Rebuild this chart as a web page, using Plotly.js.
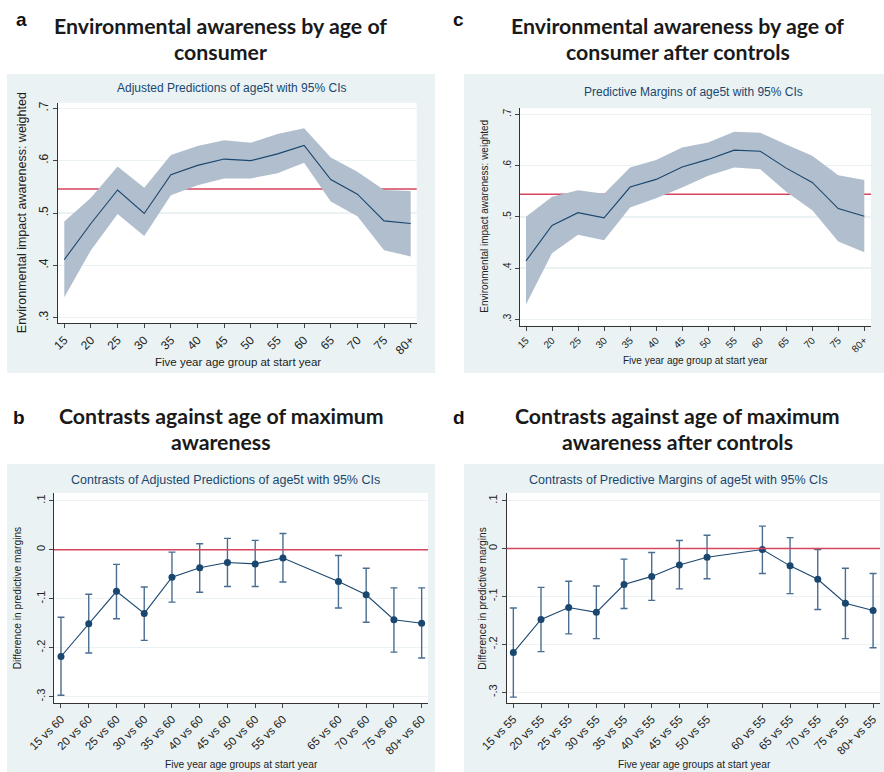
<!DOCTYPE html>
<html>
<head>
<meta charset="utf-8">
<script src="https://cdn.plot.ly/plotly-3.0.1.min.js"></script>
<style>html,body{margin:0;padding:0;background:#fff;}#chart{width:884px;height:772px;}</style>
</head>
<body>
<div id="chart"></div>
<script>
// ---------- data ----------
const ageStart  = [15,20,25,30,35,40,45,50,55,60,65,70,75,80];
const ageLabels = ['15','20','25','30','35','40','45','50','55','60','65','70','75','80+'];

// Panel a: adjusted predictions
const predA = [.411,.480,.544,.499,.573,.591,.603,.600,.613,.629,.564,.536,.485,.480];
const lowA  = [.339,.429,.498,.456,.534,.553,.566,.566,.576,.596,.522,.494,.429,.417];
const highA = [.484,.529,.589,.548,.611,.628,.639,.634,.651,.662,.606,.579,.544,.542];
const refA = .546;

// Panel c: predictive margins after controls
const predC = [.414,.483,.508,.498,.558,.573,.597,.612,.630,.628,.595,.567,.516,.501];
const lowC  = [.329,.429,.465,.454,.518,.536,.557,.580,.596,.593,.549,.513,.452,.431];
const highC = [.500,.539,.552,.545,.596,.611,.635,.645,.666,.664,.641,.619,.581,.572];
const refC = .544;

// Panel b: contrasts vs 60
const ageB    = [15,20,25,30,35,40,45,50,55,65,70,75,80];
const labelsB = ['15 vs 60','20 vs 60','25 vs 60','30 vs 60','35 vs 60','40 vs 60','45 vs 60','50 vs 60','55 vs 60','65 vs 60','70 vs 60','75 vs 60','80+ vs 60'];
const diffB = [-.218,-.151,-.085,-.130,-.056,-.037,-.026,-.029,-.017,-.065,-.092,-.143,-.150];
const lowB  = [-.297,-.211,-.141,-.185,-.107,-.087,-.075,-.075,-.066,-.119,-.148,-.209,-.221];
const highB = [-.138,-.091,-.030,-.076,-.005,.012,.023,.019,.033,-.012,-.038,-.078,-.078];

// Panel d: contrasts vs 55 after controls
const ageD    = [15,20,25,30,35,40,45,50,60,65,70,75,80];
const labelsD = ['15 vs 55','20 vs 55','25 vs 55','30 vs 55','35 vs 55','40 vs 55','45 vs 55','50 vs 55','60 vs 55','65 vs 55','70 vs 55','75 vs 55','80+ vs 55'];
const diffD = [-.217,-.148,-.123,-.133,-.075,-.058,-.034,-.018,-.002,-.036,-.064,-.114,-.129];
const lowD  = [-.310,-.215,-.178,-.188,-.125,-.108,-.084,-.063,-.052,-.094,-.127,-.188,-.207];
const highD = [-.124,-.081,-.068,-.078,-.022,-.008,.017,.028,.047,.023,-.002,-.041,-.052];

const yTickValsTop = [.3,.4,.5,.6,.7];
const yTickTextTop = ['.3','.4','.5','.6','.7'];
const yTickValsBot = [-.3,-.2,-.1,0,.1];
const yTickTextBot = ['-.3','-.2','-.1','0','.1'];

// ---------- styling ----------
const W = 884, H = 772;
const NAVY = '#1a476f', BAND = 'rgb(176,190,205)', RED = '#d5455e', BG = '#eaf2f3', CI = '#4a6e92';
const px = v => v / W, py = v => 1 - v / H;
const FONT = 'Liberation Sans, Arial, sans-serif';

function sub(a, b) { return a.map((v, i) => v - b[i]); }

const traces = [
  // panel a
  {x: ageStart, y: highA, type: 'scatter', mode: 'lines', line: {width: 0, color: BAND}, xaxis: 'x', yaxis: 'y', hoverinfo: 'skip'},
  {x: ageStart, y: lowA, type: 'scatter', mode: 'lines', line: {width: 0, color: BAND}, fill: 'tonexty', fillcolor: BAND, xaxis: 'x', yaxis: 'y'},
  {x: ageStart, y: predA, type: 'scatter', mode: 'lines', line: {width: 1.1, color: NAVY}, xaxis: 'x', yaxis: 'y'},
  // panel c
  {x: ageStart, y: highC, type: 'scatter', mode: 'lines', line: {width: 0, color: BAND}, xaxis: 'x3', yaxis: 'y3', hoverinfo: 'skip'},
  {x: ageStart, y: lowC, type: 'scatter', mode: 'lines', line: {width: 0, color: BAND}, fill: 'tonexty', fillcolor: BAND, xaxis: 'x3', yaxis: 'y3'},
  {x: ageStart, y: predC, type: 'scatter', mode: 'lines', line: {width: 1.1, color: NAVY}, xaxis: 'x3', yaxis: 'y3'},
  // panel b
  {x: ageB, y: diffB, type: 'scatter', mode: 'lines+markers', line: {width: 1.1, color: NAVY},
   marker: {size: 7, color: NAVY},
   error_y: {type: 'data', symmetric: false, array: sub(highB, diffB), arrayminus: sub(diffB, lowB), color: CI, thickness: 1.4, width: 3.5},
   xaxis: 'x2', yaxis: 'y2'},
  // panel d
  {x: ageD, y: diffD, type: 'scatter', mode: 'lines+markers', line: {width: 1.1, color: NAVY},
   marker: {size: 7, color: NAVY},
   error_y: {type: 'data', symmetric: false, array: sub(highD, diffD), arrayminus: sub(diffD, lowD), color: CI, thickness: 1.4, width: 3.5},
   xaxis: 'x4', yaxis: 'y4'}
];

function xax(dom, range, anchor, vals, text, size) {
  return {domain: dom, range: range, anchor: anchor, tickmode: 'array', tickvals: vals, ticktext: text,
    tickangle: -45, ticks: 'outside', ticklen: 4, tickcolor: '#444', tickwidth: 1,
    showline: true, linecolor: '#333', linewidth: 1, showgrid: false, zeroline: false,
    tickfont: {family: FONT, size: size, color: '#222'}, fixedrange: true};
}
function yax(dom, range, anchor, vals, text, size) {
  return {domain: dom, range: range, anchor: anchor, tickmode: 'array', tickvals: vals, ticktext: text,
    tickangle: -90, ticks: 'outside', ticklen: 4, tickcolor: '#444', tickwidth: 1,
    showline: true, linecolor: '#333', linewidth: 1, showgrid: true, gridcolor: BG, gridwidth: 1.5, zeroline: false,
    tickfont: {family: FONT, size: size, color: '#222'}, fixedrange: true};
}

const layout = {
  width: W, height: H, margin: {l: 0, r: 0, t: 0, b: 0},
  paper_bgcolor: '#ffffff', plot_bgcolor: 'rgba(0,0,0,0)', showlegend: false,
  xaxis:  xax([px(58), px(416.7)], [13.82, 81.125], 'y', ageStart, ageLabels, 12),
  yaxis:  yax([py(323.3), py(102.7)], [.2893, .7107], 'x', yTickValsTop, yTickTextTop, 12),
  xaxis3: xax([px(519.7), px(871)], [13.79, 81.29], 'y3', ageStart, ageLabels, 10),
  yaxis3: yax([py(325.7), py(108.3)], [.2875, .7117], 'x3', yTickValsTop, yTickTextTop, 10),
  xaxis2: xax([px(54), px(428)], [13.74, 81.14], 'y2', ageB, labelsB, 11.5),
  yaxis2: yax([py(703), py(493)], [-.3129, .1157], 'x2', yTickValsBot, yTickTextBot, 11),
  xaxis4: xax([px(506.7), px(880)], [13.8, 81.25], 'y4', ageD, labelsD, 11.5),
  yaxis4: yax([py(703), py(493)], [-.3223, .1161], 'x4', yTickValsBot, yTickTextBot, 11),
  shapes: [
    // panel backgrounds
    {type: 'rect', xref: 'paper', yref: 'paper', x0: px(7), x1: px(435), y0: py(373), y1: py(74), fillcolor: BG, line: {width: 0}, layer: 'below'},
    {type: 'rect', xref: 'paper', yref: 'paper', x0: px(464), x1: px(884), y0: py(373), y1: py(74), fillcolor: BG, line: {width: 0}, layer: 'below'},
    {type: 'rect', xref: 'paper', yref: 'paper', x0: px(7), x1: px(435), y0: py(772), y1: py(464), fillcolor: BG, line: {width: 0}, layer: 'below'},
    {type: 'rect', xref: 'paper', yref: 'paper', x0: px(464), x1: px(884), y0: py(772), y1: py(464), fillcolor: BG, line: {width: 0}, layer: 'below'},
    // white plot regions
    {type: 'rect', xref: 'paper', yref: 'paper', x0: px(58), x1: px(416.7), y0: py(323.3), y1: py(102.7), fillcolor: '#fff', line: {width: 0}, layer: 'below'},
    {type: 'rect', xref: 'paper', yref: 'paper', x0: px(519.7), x1: px(871), y0: py(325.7), y1: py(108.3), fillcolor: '#fff', line: {width: 0}, layer: 'below'},
    {type: 'rect', xref: 'paper', yref: 'paper', x0: px(54), x1: px(428), y0: py(703), y1: py(493), fillcolor: '#fff', line: {width: 0}, layer: 'below'},
    {type: 'rect', xref: 'paper', yref: 'paper', x0: px(506.7), x1: px(880), y0: py(703), y1: py(493), fillcolor: '#fff', line: {width: 0}, layer: 'below'},
    // reference lines
    {type: 'line', xref: 'x domain', yref: 'y', x0: 0, x1: 1, y0: refA, y1: refA, line: {color: RED, width: 1.5}, layer: 'below'},
    {type: 'line', xref: 'x3 domain', yref: 'y3', x0: 0, x1: 1, y0: refC, y1: refC, line: {color: RED, width: 1.5}, layer: 'below'},
    {type: 'line', xref: 'x2 domain', yref: 'y2', x0: 0, x1: 1, y0: 0, y1: 0, line: {color: RED, width: 1.5}, layer: 'above'},
    {type: 'line', xref: 'x4 domain', yref: 'y4', x0: 0, x1: 1, y0: 0, y1: 0, line: {color: RED, width: 1.5}, layer: 'above'}
  ],
  annotations: []
};

function ann(text, x, y, size, opts) {
  layout.annotations.push(Object.assign({text: text, xref: 'paper', yref: 'paper', x: px(x), y: py(y),
    xanchor: 'center', yanchor: 'middle', showarrow: false,
    font: {family: FONT, size: size, color: '#222'}}, opts || {}));
}
const HEAD = {family: 'Lato, Carlito, sans-serif', size: 21.3, color: '#1a1a1a', weight: 700};
const LETTER = {family: FONT, size: 19, color: '#111', weight: 700};
const INNER = c => ({family: FONT, size: c, color: NAVY});

// letters
ann('a', 21, 20, 19, {font: LETTER});
ann('c', 458, 20, 19, {font: LETTER});
ann('b', 19, 417, 19, {font: LETTER});
ann('d', 459, 417, 19, {font: LETTER});
// headings
ann('Environmental awareness by age of', 220, 26, 21, {font: HEAD});
ann('consumer', 220, 52, 21, {font: HEAD});
ann('Environmental awareness by age of', 677.5, 26, 21, {font: HEAD});
ann('consumer after controls', 677.5, 52, 21, {font: HEAD});
ann('Contrasts against age of maximum', 221, 416, 21, {font: HEAD});
ann('awareness', 221, 442, 21, {font: HEAD});
ann('Contrasts against age of maximum', 677, 416, 21, {font: HEAD});
ann('awareness after controls', 677, 442, 21, {font: HEAD});
// inner titles
ann('Adjusted Predictions of age5t with 95% CIs', 231, 88, 12, {font: INNER(12)});
ann('Predictive Margins of age5t with 95% CIs', 693, 92, 12, {font: INNER(12)});
ann('Contrasts of Adjusted Predictions of age5t with 95% CIs', 226, 479.5, 12.5, {font: INNER(12.5)});
ann('Contrasts of Predictive Margins of age5t with 95% CIs', 678, 479.5, 12.5, {font: INNER(12.5)});
// axis titles
ann('Environmental impact awareness: weighted', 22.7, 212.5, 12.5, {textangle: -90});
ann('Five year age group at start year', 238, 361.7, 11.5);
ann('Environmental impact awareness: weighted', 485, 216.7, 10, {textangle: -90});
ann('Five year age group at start year', 695, 360.7, 10);
ann('Difference in predictive margins', 17.3, 598, 10.2, {textangle: -90});
ann('Five year age groups at start year', 241.7, 764, 10.2);
ann('Difference in predictive margins', 481.7, 598, 10.2, {textangle: -90});
ann('Five year age groups at start year', 694.3, 764, 10.2);

Plotly.newPlot('chart', traces, layout, {staticPlot: true, displayModeBar: false});
</script>
</body>
</html>
